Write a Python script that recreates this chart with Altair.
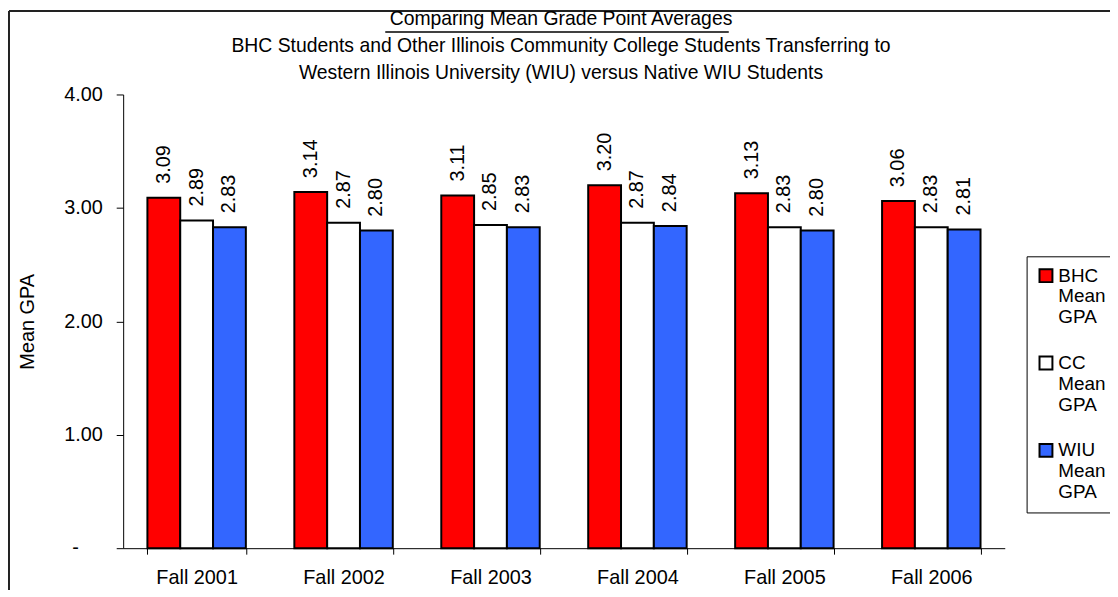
import altair as alt
import pandas as pd

terms = ["Fall 2001", "Fall 2002", "Fall 2003", "Fall 2004", "Fall 2005", "Fall 2006"]
bhc = [3.09, 3.14, 3.11, 3.20, 3.13, 3.06]
cc = [2.89, 2.87, 2.85, 2.87, 2.83, 2.83]
wiu = [2.83, 2.80, 2.83, 2.84, 2.80, 2.81]
series = ["BHC Mean GPA", "CC Mean GPA", "WIU Mean GPA"]
colors = ["#FF0000", "#FFFFFF", "#3366FF"]
y_ticks = [0, 1, 2, 3, 4]
zero_label = "-"
title_lines = [
    "Comparing Mean Grade Point Averages",
    "BHC Students and Other Illinois Community College Students Transferring to",
    "Western Illinois University (WIU) versus Native WIU Students",
]

rows = []
for s, vals in zip(series, [bhc, cc, wiu]):
    for t, v in zip(terms, vals):
        rows.append({"term": t, "series": s, "gpa": v})
df = pd.DataFrame(rows)

FONT = "Liberation Sans"
FS = 20

x_enc = alt.X(
    "term:N",
    sort=terms,
    scale=alt.Scale(paddingInner=0.33, paddingOuter=0.165),
    axis=alt.Axis(title=None, labelAngle=0, tickBand="extent", tickSize=6,
                  labelPadding=14),
)
xoff = alt.XOffset("series:N", sort=series)
y_scale = alt.Scale(domain=[0, 4])
y_enc = alt.Y(
    "gpa:Q",
    scale=y_scale,
    axis=alt.Axis(
        title="Mean GPA",
        values=y_ticks,
        labelExpr="datum.value == 0 ? '' : format(datum.value, '.2f')",
        tickSize=7,
        labelPadding=14,
        titlePadding=26,
    ),
)
color_enc = alt.Color(
    "series:N",
    scale=alt.Scale(domain=series, range=colors),
    legend=alt.Legend(
        title=None,
        orient="none",
        legendX=910,
        legendY=163,
        symbolType="square",
        symbolSize=169,
        symbolStrokeColor="black",
        symbolStrokeWidth=2,
        symbolOpacity=1,
        labelExpr="split(datum.label, ' ')",
        labelFontSize=19,
        labelFont=FONT,
        labelColor="black",
        labelOffset=3,
        strokeColor="black",
        fillColor="white",
        padding=10,
        rowPadding=25,
    ),
)

base = alt.Chart(df)
bars = base.mark_bar(stroke="black", strokeWidth=2, opacity=1).encode(
    x=x_enc, xOffset=xoff, y=y_enc, color=color_enc
)
labels = base.mark_text(
    angle=270, align="left", baseline="middle", dx=14, fontSize=FS, font=FONT, color="black"
).encode(x=x_enc, xOffset=xoff, y=y_enc, text=alt.Text("gpa:Q", format=".2f"))

# zero tick label shown as "-" (accounting style), set further left than the others
zero_df = pd.DataFrame({"gpa": [y_ticks[0]], "t": [zero_label]})
zero_text = alt.Chart(zero_df).mark_text(
    align="center", baseline="middle", fontSize=FS, font=FONT, color="black"
).encode(x=alt.value(-48), y=alt.Y("gpa:Q", scale=y_scale), text="t:N")

deco = alt.Chart(pd.DataFrame({"d": [0]}))
underline = deco.mark_rule(color="black", strokeWidth=1.5).encode(
    x=alt.value(264), x2=alt.value(610), y=alt.value(-63)
)
border_left = deco.mark_rule(color="#222222", strokeWidth=2).encode(
    x=alt.value(-115), y=alt.value(-84), y2=alt.value(700)
)
border_top = deco.mark_rule(color="#222222", strokeWidth=2).encode(
    x=alt.value(-115), x2=alt.value(1200), y=alt.value(-84)
)

chart = (
    alt.layer(border_left, border_top, underline, bars, labels, zero_text)
    .properties(
        width=888,
        height=457,
        title=alt.TitleParams(
            text=title_lines,
            anchor="middle",
            frame="group",
            dx=-3,
            dy=85,
            offset=11,
            fontSize=19.5,
            font=FONT,
            fontWeight="normal",
            color="black",
            lineHeight=27,
        ),
        autosize=alt.AutoSizeParams(type="none"),
        padding={"left": 116, "top": 85, "right": 106, "bottom": 40},
    )
    .configure_view(stroke="transparent")
    .configure_axis(
        grid=False,
        domainColor="black",
        tickColor="black",
        labelColor="black",
        titleColor="black",
        labelFont=FONT,
        titleFont=FONT,
        labelFontSize=FS,
        titleFontSize=FS,
        titleFontWeight="normal",
    )
)

chart.save("out.html", embed_options={"renderer": "svg", "actions": False})
